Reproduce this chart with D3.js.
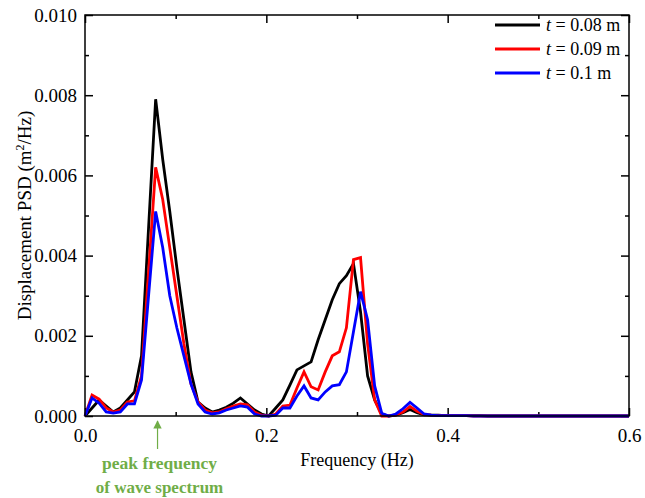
<!DOCTYPE html>
<html>
<head>
<meta charset="utf-8">
<script src="https://cdn.jsdelivr.net/npm/d3@7"></script>
<style>
  body { margin: 0; background: #fff; }
  svg text { font-family: "Liberation Serif", "Times New Roman", serif; }
</style>
</head>
<body>
<div id="chart"></div>
<script>
// frequency grid (Hz), uniform FFT bins from 0 to 0.6
const freqStep = 0.6 / 77;
const freq = d3.range(78).map(i => i * freqStep);

// PSD values (m^2/Hz), one per bin
const psd008 = [0, 0.0002, 0.0004, 0.00025, 0.0001, 0.0002, 0.0004, 0.0006, 0.0015, 0.0047,
  0.0079, 0.0064, 0.0051, 0.0037, 0.0024, 0.0011, 0.00035, 0.0002, 0.0001, 0.00015,
  0.00022, 0.00032, 0.00045, 0.0003, 0.00015, 0.00005, 0, 0.0002, 0.0004, 0.00077,
  0.00115, 0.00125, 0.00135, 0.0019, 0.0024, 0.0029, 0.0033, 0.0035, 0.0038, 0.0026,
  0.001, 0.0004, 0.00005, 0, 0.00002, 0.00008, 0.00016, 0.00008, 0.00003, 0.00002,
  0.00002, 0.00001, 0.00001, 0.00001, 0.00001, 0.00001, 0.00001, 0, 0, 0,
  0, 0, 0, 0, 0, 0, 0, 0, 0, 0,
  0, 0, 0, 0, 0, 0, 0, 0];
const psd009 = [0, 0.00052, 0.00042, 0.0002, 0.0001, 0.00015, 0.00035, 0.00038, 0.001, 0.0036,
  0.0062, 0.0054, 0.0042, 0.003, 0.0018, 0.0008, 0.00035, 0.00015, 0.00008, 0.0001,
  0.00018, 0.00025, 0.0003, 0.00028, 0.0001, 0.00002, 0, 0.00005, 0.00025, 0.00027,
  0.0007, 0.0011, 0.00073, 0.00065, 0.0011, 0.0015, 0.0016, 0.0022, 0.0039, 0.00395,
  0.0018, 0.0004, 0, 0, 0.00003, 0.0001, 0.00024, 0.00012, 0.00004, 0.00002,
  0.00001, 0.00001, 0.00001, 0.00001, 0.00001, 0, 0, 0, 0, 0,
  0, 0, 0, 0, 0, 0, 0, 0, 0, 0,
  0, 0, 0, 0, 0, 0, 0, 0];
const psd010 = [0, 0.00045, 0.00032, 0.0001, 0.00007, 0.0001, 0.0003, 0.0003, 0.0009, 0.003,
  0.0051, 0.0042, 0.003, 0.0022, 0.0015, 0.0008, 0.0003, 0.0001, 0.00005, 0.00008,
  0.00015, 0.0002, 0.00025, 0.00022, 0.00005, 0, 0, 0.00002, 0.0002, 0.0002,
  0.0005, 0.00075, 0.00045, 0.0004, 0.0006, 0.00075, 0.00078, 0.0011, 0.0021, 0.0031,
  0.0024, 0.00075, 0.00007, 0, 0.00005, 0.00018, 0.00034, 0.0002, 0.00005, 0.00002,
  0.00001, 0.00001, 0.00001, 0.00001, 0.00001, 0, 0, 0, 0, 0,
  0, 0, 0, 0, 0, 0, 0, 0, 0, 0,
  0, 0, 0, 0, 0, 0, 0, 0];

const seriesNames = ["0.08", "0.09", "0.1"];
const seriesColors = ["#000000", "#ff0000", "#0000ff"];
const seriesValues = [psd008, psd009, psd010];

const xTicks = [0, 0.2, 0.4, 0.6];
const xMinor = [0.1, 0.3, 0.5];
const yTicks = [0, 0.002, 0.004, 0.006, 0.008, 0.010];
const yMinor = [0.001, 0.003, 0.005, 0.007, 0.009];
const peakFreq = 0.08;

const W = 645, H = 498;
const plot = { left: 85, right: 629, top: 15, bottom: 416 };

const svg = d3.select("#chart").append("svg")
  .attr("width", W).attr("height", H);

const x = d3.scaleLinear().domain([0, 0.6]).range([plot.left, plot.right]);
const y = d3.scaleLinear().domain([0, 0.010]).range([plot.bottom, plot.top]);

// axes: major + minor ticks, pointing inward on all four sides
function drawAxis(axis, tx, ty, labels) {
  const g = svg.append("g").attr("transform", `translate(${tx},${ty})`).call(axis);
  g.select(".domain").remove();
  g.selectAll(".tick line").attr("stroke", "#000").attr("stroke-width", 1.5);
  if (!labels) g.selectAll(".tick text").remove();
  else g.selectAll(".tick text").attr("font-size", 19).attr("fill", "#000")
        .style("font-family", '"Liberation Serif", serif');
  return g;
}

drawAxis(d3.axisBottom(x).tickValues(xTicks).tickSize(-8).tickPadding(13).tickFormat(d3.format(".1f")), 0, plot.bottom, true);
drawAxis(d3.axisBottom(x).tickValues(xMinor).tickSize(-4), 0, plot.bottom, false);
drawAxis(d3.axisTop(x).tickValues(xTicks).tickSize(-8), 0, plot.top, false);
drawAxis(d3.axisTop(x).tickValues(xMinor).tickSize(-4), 0, plot.top, false);
drawAxis(d3.axisLeft(y).tickValues(yTicks).tickSize(-8).tickPadding(8).tickFormat(d3.format(".3f")), plot.left, 0, true);
drawAxis(d3.axisLeft(y).tickValues(yMinor).tickSize(-4), plot.left, 0, false);
drawAxis(d3.axisRight(y).tickValues(yTicks).tickSize(-8), plot.right, 0, false);
drawAxis(d3.axisRight(y).tickValues(yMinor).tickSize(-4), plot.right, 0, false);

// lines
const line = d3.line()
  .x((d, i) => x(freq[i]))
  .y(d => y(d));

seriesValues.forEach((vals, k) => {
  svg.append("path")
    .datum(vals)
    .attr("fill", "none")
    .attr("stroke", seriesColors[k])
    .attr("stroke-width", 2.8)
    .attr("stroke-linejoin", "miter")
    .attr("d", line);
});

// frame
svg.append("rect")
  .attr("x", plot.left).attr("y", plot.top)
  .attr("width", plot.right - plot.left).attr("height", plot.bottom - plot.top)
  .attr("fill", "none").attr("stroke", "#000").attr("stroke-width", 1.5);

// axis titles
svg.append("text")
  .attr("x", (plot.left + plot.right) / 2).attr("y", 466)
  .attr("text-anchor", "middle").attr("font-size", 18)
  .text("Frequency (Hz)");

const yTitle = svg.append("text")
  .attr("transform", `translate(31,${(plot.top + plot.bottom) / 2}) rotate(-90)`)
  .attr("text-anchor", "middle").attr("font-size", 19);
yTitle.append("tspan").text("Displacement PSD (m");
yTitle.append("tspan").attr("font-size", 12).attr("dy", -7).text("2");
yTitle.append("tspan").attr("dy", 7).text("/Hz)");

// legend
const legend = svg.append("g");
seriesNames.forEach((name, k) => {
  const ly = 25 + k * 24;
  legend.append("line")
    .attr("x1", 495).attr("x2", 540).attr("y1", ly).attr("y2", ly)
    .attr("stroke", seriesColors[k]).attr("stroke-width", 3);
  const t = legend.append("text")
    .attr("x", 546).attr("y", ly + 6).attr("font-size", 18);
  t.append("tspan").attr("font-style", "italic").text("t");
  t.append("tspan").text(` = ${name} m`);
});

// peak frequency annotation
const green = "#70ad47";
svg.append("defs").append("marker")
  .attr("id", "arrowhead")
  .attr("viewBox", "0 0 10 10").attr("refX", 9).attr("refY", 5)
  .attr("markerWidth", 7).attr("markerHeight", 7)
  .attr("orient", "auto")
  .append("path").attr("d", "M0,0 L10,5 L0,10 z").attr("fill", green);

svg.append("line")
  .attr("x1", x(peakFreq)).attr("x2", x(peakFreq))
  .attr("y1", 449).attr("y2", 421)
  .attr("stroke", green).attr("stroke-width", 1.2)
  .attr("marker-end", "url(#arrowhead)");

svg.append("text")
  .attr("x", x(peakFreq) + 2).attr("y", 469)
  .attr("text-anchor", "middle").attr("font-size", 17.5).attr("font-weight", "bold")
  .attr("fill", green).text("peak frequency");
svg.append("text")
  .attr("x", x(peakFreq) + 2).attr("y", 493)
  .attr("text-anchor", "middle").attr("font-size", 17).attr("font-weight", "bold")
  .attr("fill", green).text("of wave spectrum");
</script>
</body>
</html>
